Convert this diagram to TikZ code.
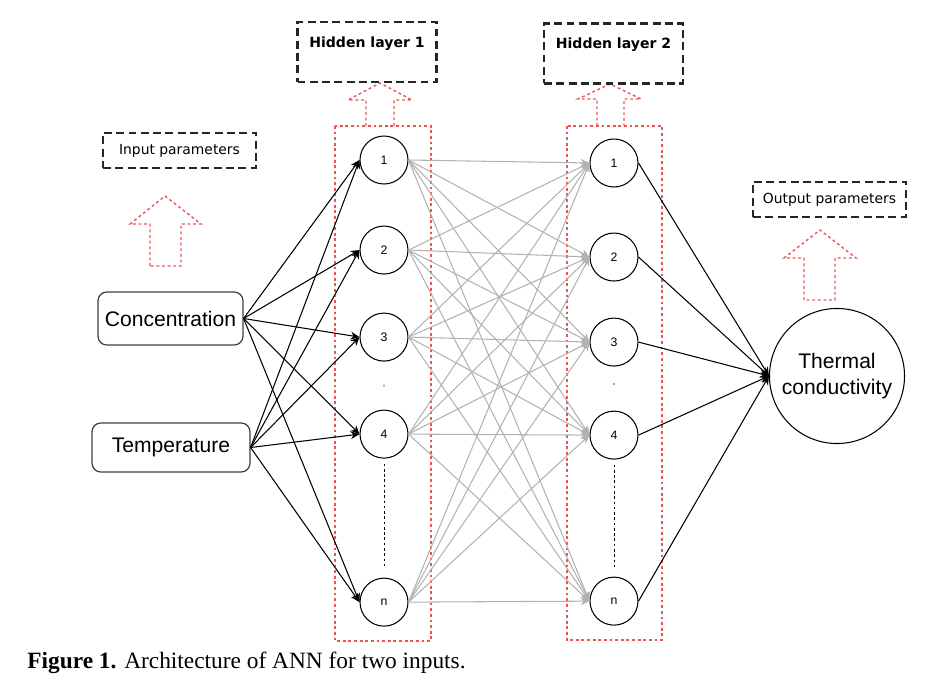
\documentclass[tikz,border=0pt]{standalone}
\usepackage{fontspec}
\setmainfont{Liberation Serif}
\setsansfont{Liberation Sans}
\newfontfamily\notefont{DejaVu Sans}
\usetikzlibrary{positioning,arrows.meta,calc}
\definecolor{dotred}{RGB}{236,84,84}
\definecolor{edgegray}{RGB}{178,178,178}

\begin{document}
\begin{tikzpicture}[
    x=0.02cm, y=-0.02cm,
    font=\sffamily,
    neuron/.style={draw, circle, minimum size=0.96cm, inner sep=0pt, line width=0.6pt,
                   font=\sffamily\fontsize{7}{8}\selectfont},
    inbox/.style={draw=black!75, rounded corners=5pt, line width=0.7pt,
                  font=\sffamily\fontsize{12}{14}\selectfont},
    outnode/.style={draw, circle, minimum size=2.6cm, align=center, line width=0.6pt,
                    font=\sffamily\fontsize{12}{15.3}\selectfont},
    note/.style={draw=black!85, line width=1.3pt, dash pattern=on 4.5pt off 2.5pt,
                 minimum width=3.06cm, minimum height=0.7cm,
                 font=\notefont\fontsize{7.9}{9.5}\selectfont},
    layernote/.style={note, minimum width=2.78cm, inner sep=0.2cm, text height=0.3cm,
                      text depth=0.5cm, font=\notefont\bfseries\fontsize{8}{9.5}\selectfont},
    redbox/.style={draw=dotred, line width=0.8pt, dash pattern=on 1.6pt off 1.6pt},
    arr/.style={-{Stealth[length=5pt, width=4.5pt]}, line width=0.6pt},
    garr/.style={-{Stealth[length=5pt, width=4.5pt]}, draw=edgegray, line width=0.6pt},
    vdots/.style={dash pattern=on 1.5pt off 1.5pt, line width=0.5pt},
    dotmark/.style={circle, fill=gray!70, inner sep=0pt, minimum size=1.5pt},
  ]
    \useasboundingbox (0,0) rectangle (930,693);

    % Layer frames
    \draw[redbox] (335,126) rectangle (431,641);
    \draw[redbox] (567,126) rectangle (662,640);

    % Hollow arrows
    \draw[redbox] (150,266) -- (150,224) -- (130,224) -- (165,196) -- (201,224) -- (181,224) -- (181,266) -- cycle;
    \draw[redbox] (366,126) -- (366,100) -- (348,100) -- (380,83) -- (412,100) -- (394,100) -- (394,126);
    \draw[redbox] (597,126) -- (597,99) -- (578,99) -- (610,84) -- (641,99) -- (624,99) -- (624,126);
    \draw[redbox] (804,300) -- (804,258) -- (784,258) -- (820,230) -- (856,258) -- (835,258) -- (835,300) -- cycle;

    % Notes
    \node[note] (inlbl) at (179.5,150.5) {Input parameters};
    \node[note] (outlbl) at (829.5,199.5) {Output parameters};
    \node[layernote] (h1lbl) at (367,52) {Hidden layer 1};
    \node[layernote] (h2lbl) at (613.5,53.5) {Hidden layer 2};

    % Inputs (left)
    \node[inbox, minimum width=2.9cm, minimum height=1.06cm] (conc) at (170.5,318.5) {Concentration};
    \node[inbox, minimum width=3.16cm, minimum height=0.98cm] (temp) at (171,447.5) {Temperature};

    % Hidden layer 1
    \node[neuron] (a1) at (384,160) {1};
    \node[neuron, below=0.82cm of a1] (a2) {2};
    \node[neuron, below=0.76cm of a2] (a3) {3};
    \node[neuron, below=0.96cm of a3] (a4) {4};
    \node[neuron, below=2.38cm of a4] (a5) {n};
    \node[dotmark] (adot) at ($(a3)!0.5!(a4)$) {};
    \draw[vdots] ([yshift=-0.1cm]a4.south) -- ([yshift=0.18cm]a5.north);

    % Hidden layer 2
    \node[neuron] (b1) at (614,163) {1};
    \node[neuron, below=0.9cm of b1] (b2) {2};
    \node[neuron, below=0.72cm of b2] (b3) {3};
    \node[neuron, below=0.88cm of b3] (b4) {4};
    \node[neuron, below=2.34cm of b4] (b5) {n};
    \node[dotmark] (bdot) at ($(b3)!0.45!(b4)$) {};
    \draw[vdots] ([yshift=-0.1cm]b4.south) -- ([yshift=0.18cm]b5.north);

    % Output (right)
    \node[outnode] (tc) at (837,376) {Thermal\\conductivity};

    % Edges
    \foreach \i in {1,...,5} {
      \draw[arr] (conc.east) -- (a\i.west);
      \draw[arr] (temp.east) -- (a\i.west);
      \draw[arr] (b\i.east) -- (tc.west);
      \foreach \j in {1,...,5}
        \draw[garr] (a\i.east) -- (b\j.west);
    }

    % Caption
    \node[font=\rmfamily\fontsize{13.3}{15}\selectfont, anchor=west, inner sep=0pt] (caption) at (27,663)
        {\textbf{Figure 1.} Architecture of ANN for two inputs.};
  \end{tikzpicture}
\end{document}
